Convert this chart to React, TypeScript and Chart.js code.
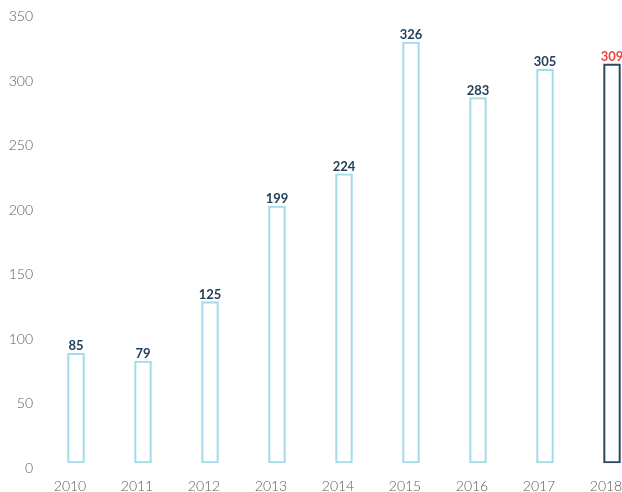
import React, { useEffect, useRef } from "react";
import { Chart, registerables } from "chart.js";

Chart.register(...registerables);

const years = ["2010", "2011", "2012", "2013", "2014", "2015", "2016", "2017", "2018"];
const values = [85, 79, 125, 199, 224, 326, 283, 305, 309];
const highlightIndex = 8;

const barBlue = "#a3dbe9";
const barNavy = "#2d4a63";
const labelNavy = "#223f5b";
const labelRed = "#f0453b";
const tickGray = "#5a5a5a";

const valueLabels = {
  id: "valueLabels",
  afterDatasetsDraw(chart: any) {
    const ctx = chart.ctx;
    const meta = chart.getDatasetMeta(0);
    ctx.save();
    ctx.font = "700 13px Lato";
    ctx.textAlign = "center";
    ctx.textBaseline = "alphabetic";
    meta.data.forEach((bar: any, i: number) => {
      ctx.fillStyle = i === highlightIndex ? labelRed : labelNavy;
      ctx.fillText(String(values[i]), bar.x, bar.y - 3);
    });
    ctx.restore();
  },
};

export default function App() {
  const ref = useRef<HTMLCanvasElement | null>(null);
  useEffect(() => {
    document.body.style.margin = "0";
    const chart = new Chart(ref.current as HTMLCanvasElement, {
      type: "bar",
      data: {
        labels: years,
        datasets: [
          {
            data: values,
            backgroundColor: "rgba(0,0,0,0)",
            borderColor: values.map((_, i) => (i === highlightIndex ? barNavy : barBlue)),
            borderWidth: 1.5,
            barThickness: 17,
            borderSkipped: false,
            clip: false as any,
          },
        ],
      },
      options: {
        responsive: false,
        animation: false,
        layout: { padding: { top: 11, right: 10, left: 0, bottom: 0 } },
        plugins: { legend: { display: false }, tooltip: { enabled: false } },
        scales: {
          x: {
            offset: false,
            grid: { display: false, drawTicks: false },
            border: { display: false },
            ticks: {
              padding: 16,
              labelOffset: -6,
              color: tickGray,
              font: { family: "Lato", size: 14, weight: "300" as any, lineHeight: 1 },
              maxRotation: 0,
              autoSkip: false,
            },
            afterFit: (scale: any) => {
              scale.paddingLeft = 0;
              scale.paddingRight = 0;
              scale.paddingTop = 0;
              scale.paddingBottom = 0;
              scale.height = 29;
            },
          },
          y: {
            min: 0,
            max: 350,
            grid: { display: false, drawTicks: false },
            border: { display: false },
            ticks: {
              stepSize: 50,
              padding: 43,
              labelOffset: 5.5,
              color: tickGray,
              font: { family: "Lato", size: 14, weight: "300" as any },
            },
            afterFit: (scale: any) => {
              scale.width = 76;
              scale.paddingTop = 0;
              scale.paddingBottom = 0;
            },
          },
        },
      },
      plugins: [valueLabels],
    });
    return () => chart.destroy();
  }, []);
  return (
    <div style={{ width: 622, height: 492 }}>
      <canvas ref={ref} width={622} height={492} />
    </div>
  );
}
